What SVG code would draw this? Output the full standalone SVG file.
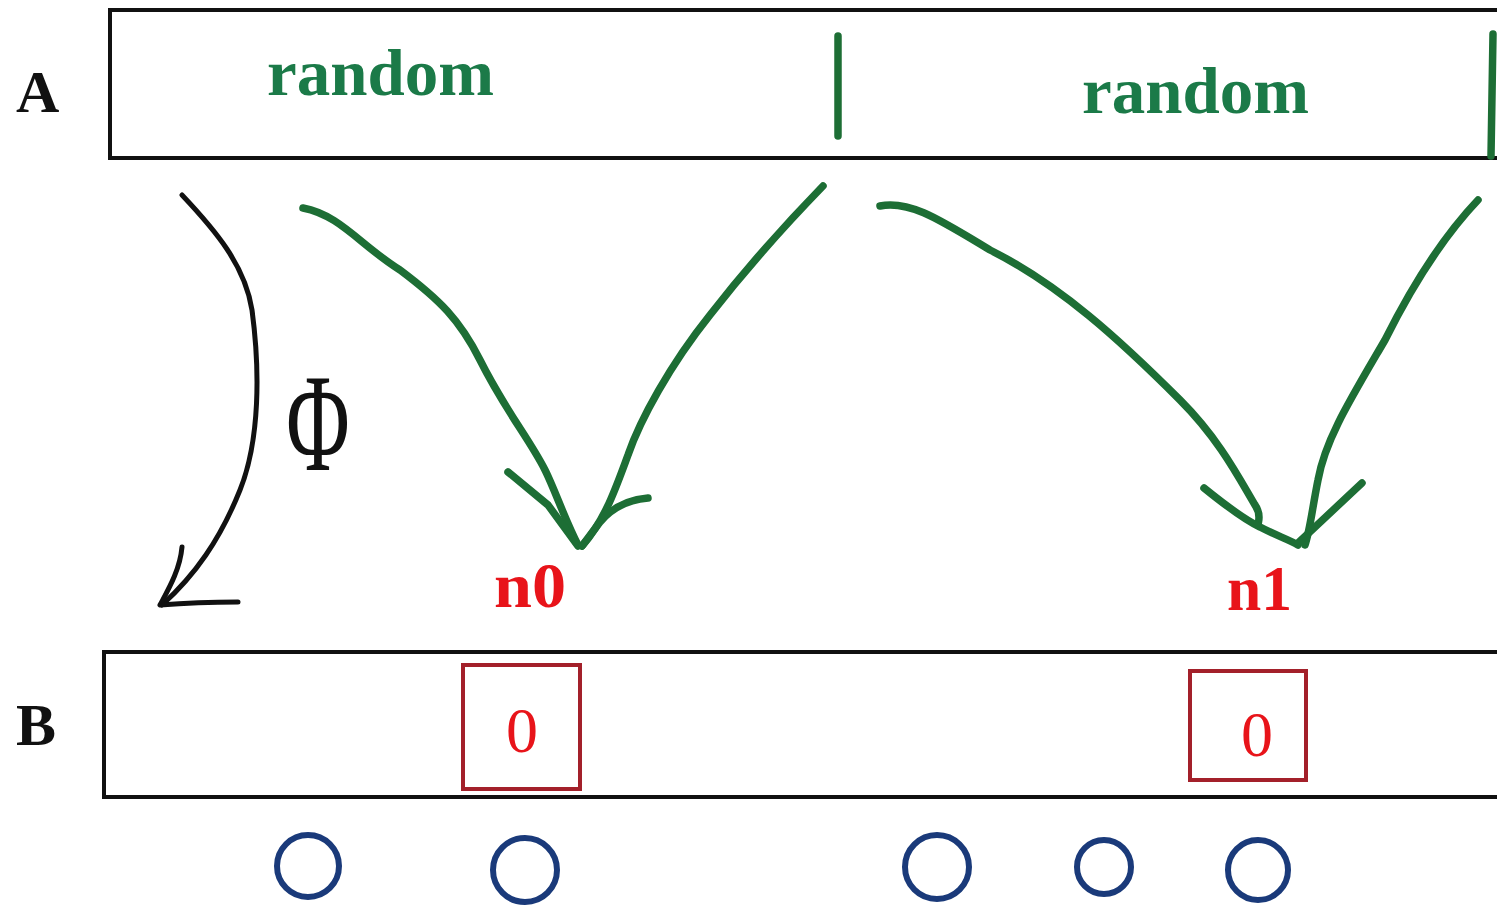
<svg xmlns="http://www.w3.org/2000/svg" width="1497" height="906" viewBox="0 0 1497 906">
  <style>
    .box { fill: none; stroke: #111; stroke-width: 4; }
    .lbl { font-family: "Liberation Serif", serif; font-weight: bold; font-size: 60px; fill: #111; }
    .rnd { font-family: "Liberation Serif", serif; font-weight: bold; font-size: 66px; fill: #1b7a48; }
    .nlbl { font-family: "Liberation Serif", serif; font-weight: bold; font-size: 64px; fill: #e8141a; }
    .zero { font-family: "Liberation Serif", serif; font-size: 64px; fill: #e8141a; text-anchor: middle; }
    .cell { fill: none; stroke: #a3202a; stroke-width: 4; }
    .gr { fill: none; stroke: #1d6e35; stroke-width: 7.5; stroke-linecap: round; stroke-linejoin: round; }
    .bk { fill: none; stroke: #111; stroke-width: 5; stroke-linecap: round; stroke-linejoin: round; }
    .dot { fill: none; stroke: #1a3a7a; stroke-width: 6; }
  </style>

  <rect width="1497" height="906" fill="#fff"/>

  <g id="rowA">
    <text class="lbl" x="16" y="112">A</text>
    <path class="box" d="M1500,10 L110,10 L110,158 L1500,158"/>
    <text class="rnd" x="267" y="95" textLength="227" lengthAdjust="spacingAndGlyphs">random</text>
    <text class="rnd" x="1082" y="113" textLength="227" lengthAdjust="spacingAndGlyphs">random</text>
    <path class="gr" d="M838,36 L838,136"/>
    <path class="gr" d="M1493,34 L1491,156"/>
  </g>

  <g id="rowB">
    <text class="lbl" x="16" y="745">B</text>
    <path class="box" d="M1500,652 L104,652 L104,797 L1500,797"/>
  </g>

  <g id="cell0">
    <rect class="cell" x="463" y="665" width="117" height="124"/>
    <text class="zero" x="522" y="752">0</text>
  </g>
  <g id="cell1">
    <rect class="cell" x="1190" y="671" width="116" height="109"/>
    <text class="zero" x="1257" y="756">0</text>
  </g>

  <g id="n0">
    <text class="nlbl" x="494" y="607" textLength="72" lengthAdjust="spacingAndGlyphs">n0</text>
  </g>
  <g id="n1">
    <text class="nlbl" x="1227" y="610" textLength="65" lengthAdjust="spacingAndGlyphs">n1</text>
  </g>

  <g id="phi">
    <text transform="translate(318,470) scale(0.62,1)" font-family="Liberation Serif, serif" font-size="140" fill="#111" text-anchor="middle">Φ</text>
  </g>

  <g id="dots">
    <circle class="dot" cx="308" cy="866" r="31"/>
    <circle class="dot" cx="525" cy="870" r="32"/>
    <circle class="dot" cx="937" cy="867" r="32"/>
    <circle class="dot" cx="1104" cy="867" r="27"/>
    <circle class="dot" cx="1258" cy="870" r="30"/>
  </g>

  <g id="connectors">
    <path class="bk" d="M182,195 C215,230 245,265 252,310 C260,370 260,440 240,490 C220,540 195,575 162,605"/>
    <path class="bk" d="M182,547 C180,570 168,590 160,605 C185,603 215,602 238,602"/>

    <path class="gr" d="M303,208 C340,215 360,245 400,270 C440,300 460,320 480,360 C505,410 530,440 545,470 C555,490 565,520 578,545"/>
    <path class="gr" d="M508,472 L548,505 L578,546"/>
    <path class="gr" d="M823,186 C790,220 745,270 710,315 C670,365 640,420 628,455 C615,490 605,520 582,546"/>
    <path class="gr" d="M648,498 C625,500 610,510 600,522 L582,546"/>

    <path class="gr" d="M880,206 C910,200 940,220 990,250 C1060,285 1120,340 1180,400 C1220,440 1240,480 1255,505 C1262,515 1258,522 1258,525"/>
    <path class="gr" d="M1204,488 C1225,505 1245,520 1260,527 C1275,535 1290,540 1298,545"/>
    <path class="gr" d="M1478,200 C1440,240 1410,290 1385,340 C1350,400 1325,440 1318,480 C1312,510 1310,530 1305,545"/>
    <path class="gr" d="M1362,483 L1298,543"/>
  </g>
</svg>
